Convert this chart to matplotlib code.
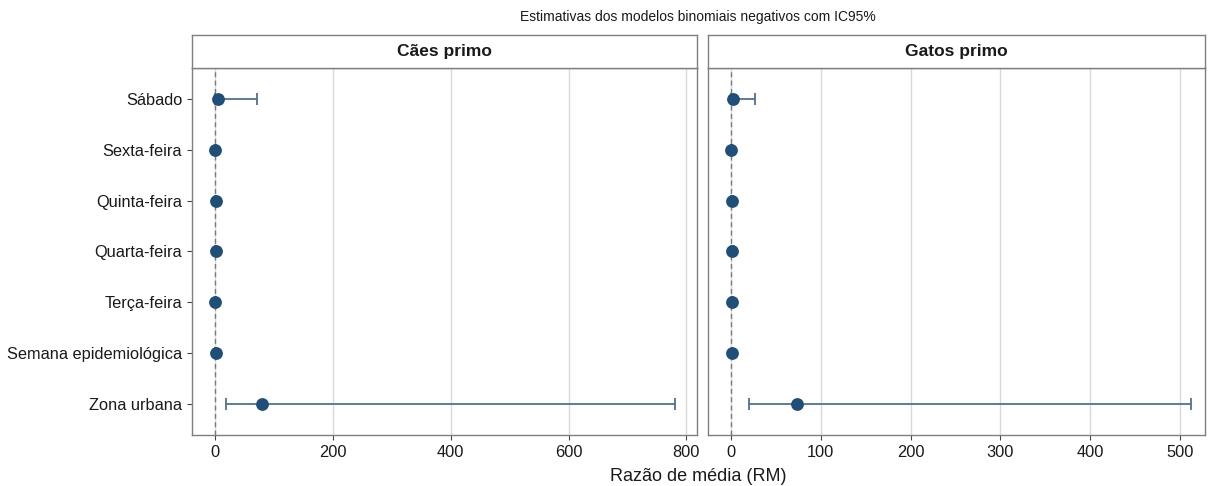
import matplotlib
matplotlib.use("Agg")
import matplotlib.pyplot as plt
import numpy as np

plt.rcParams['font.family'] = ['Liberation Sans', 'DejaVu Sans']

# categories, bottom to top
termos = ["Zona urbana", "Semana epidemiológica", "Terça-feira", "Quarta-feira",
          "Quinta-feira", "Sexta-feira", "Sábado"]

# Cães primo
caes_rm = [80.0, 0.9, 0.8, 1.1, 0.9, 0.8, 5.5]
caes_lo = [19.5, 0.8, 0.4, 0.6, 0.5, 0.4, 0.6]
caes_hi = [781.0, 1.0, 1.6, 2.0, 1.7, 1.6, 71.0]

# Gatos primo
gatos_rm = [74.0, 0.9, 0.8, 1.3, 1.2, 0.0, 2.5]
gatos_lo = [20.0, 0.8, 0.3, 0.5, 0.4, 0.0, 0.3]
gatos_hi = [512.0, 1.0, 1.8, 3.0, 2.8, 1.2, 27.0]

paineis = [
    ("Cães primo", caes_rm, caes_lo, caes_hi, [0, 200, 400, 600, 800], (-39, 818)),
    ("Gatos primo", gatos_rm, gatos_lo, gatos_hi, [0, 100, 200, 300, 400, 500], (-25.6, 528)),
]

W, H = 1208, 486
fig = plt.figure(figsize=(W / 100, H / 100), dpi=100)

ponto = "#1f4e79"
linha = "#4f7196"
borda = "#7f7f7f"

# panel boxes in pixels: (left, right)
caixas = [(192, 697), (708, 1205)]
y_top_strip, y_top_plot, y_bot = 35, 68, 435

ypos = np.arange(1, len(termos) + 1)

for i, ((titulo, rm, lo, hi, xticks, xlim), (l, r)) in enumerate(zip(paineis, caixas)):
    ax = fig.add_axes([l / W, 1 - y_bot / H, (r - l) / W, (y_bot - y_top_plot) / H])
    rm = np.array(rm)
    lo = np.array(lo)
    hi = np.array(hi)
    ax.axvline(0, color="#7a7a7a", lw=1, ls=(0, (3.5, 2.5)), zorder=1)
    ax.errorbar(rm, ypos, xerr=[rm - lo, hi - rm], fmt="none", ecolor=linha,
                elinewidth=1.3, capsize=4.5, capthick=1.3, zorder=2)
    ax.scatter(rm, ypos, s=85, color=ponto, zorder=3, linewidths=0)
    ax.set_xlim(*xlim)
    ax.set_ylim(0.4, 7.6)
    ax.set_xticks(xticks)
    ax.set_xticklabels([str(t) for t in xticks])
    ax.set_yticks(ypos)
    ax.grid(axis="x", color="#d9d9d9", lw=1)
    ax.set_axisbelow(True)
    for s in ax.spines.values():
        s.set_color(borda)
        s.set_linewidth(1)
    ax.tick_params(axis="both", colors="#444444", labelcolor="#1a1a1a",
                   labelsize=11.8, length=3.5, width=0.8)
    if i == 0:
        ax.set_yticklabels(termos)
    else:
        ax.set_yticklabels([])
        ax.tick_params(axis="y", length=0)

    # strip
    sax = fig.add_axes([l / W, 1 - y_top_plot / H, (r - l) / W, (y_top_plot - y_top_strip) / H])
    sax.set_xticks([])
    sax.set_yticks([])
    for s in sax.spines.values():
        s.set_color(borda)
        s.set_linewidth(1)
    sax.text(0.5, 0.5, titulo, ha="center", va="center", fontsize=12.5,
             fontweight="bold", color="#1a1a1a", transform=sax.transAxes)

fig.text(698 / W, 1 - 17 / H, "Estimativas dos modelos binomiais negativos com IC95%",
         ha="center", va="center", fontsize=10, color="#1a1a1a")
fig.text(698 / W, 1 - 476 / H, "Razão de média (RM)", ha="center", va="center",
         fontsize=13, color="#1a1a1a")

fig.savefig("out.png", dpi=100, facecolor="white")
